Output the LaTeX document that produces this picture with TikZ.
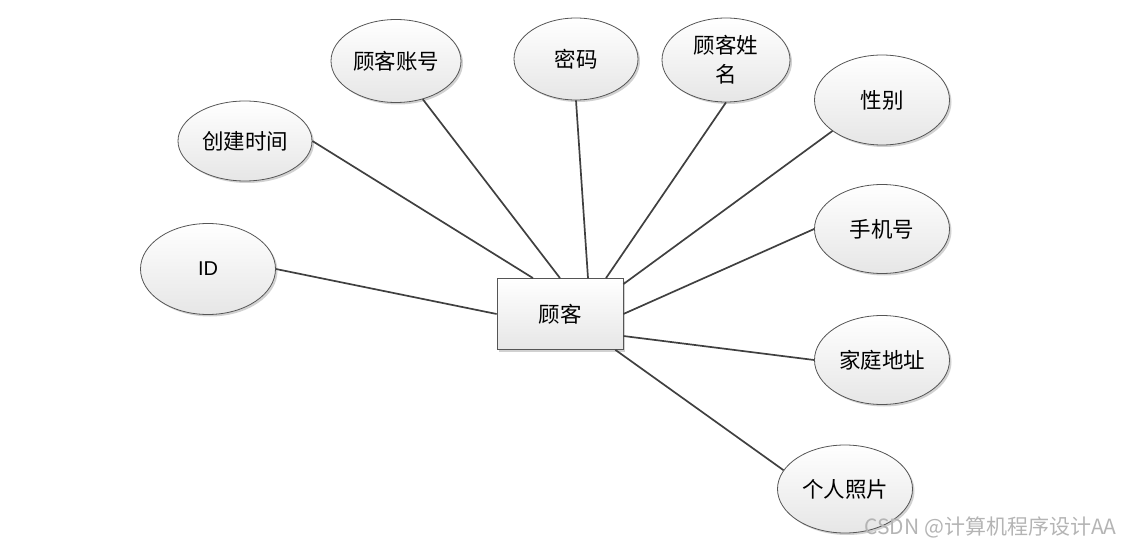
\documentclass[tikz,border=0pt]{standalone}
\usepackage{fontspec}
\newfontfamily\cjk{Noto Sans CJK SC}
\newfontfamily\lat{Liberation Sans}
\usetikzlibrary{shapes.geometric,shadows}
\definecolor{Ln}{HTML}{404040}
\definecolor{Bd}{HTML}{555555}
\definecolor{Sh}{HTML}{E6E6E6}
\definecolor{Wm}{HTML}{B4B4B4}
\tikzset{
  attr/.style={ellipse, draw=Bd, line width=0.8pt, top color=white, bottom color=Sh,
    inner sep=0pt, minimum width=134pt, minimum height=88pt, align=center,
    font=\cjk\fontsize{21.5}{29}\selectfont,
    drop shadow={shadow xshift=2pt, shadow yshift=-2pt, fill=black, opacity=0.18}},
  ent/.style={rectangle, draw=Bd, line width=0.8pt, top color=white, bottom color=Sh,
    minimum width=126pt, minimum height=71pt, font=\cjk\fontsize{21.5}{29}\selectfont,
    drop shadow={shadow xshift=2pt, shadow yshift=-2pt, fill=black, opacity=0.18}},
  link/.style={draw=Ln, line width=1.7pt},
}
\begin{document}
\begin{tikzpicture}[x=1pt,y=-1pt]
  \useasboundingbox (0,0) rectangle (1122,548);
  % entity
  \node[ent] (gk) at (560,314) {顾客};
  % attributes
  \node[attr, minimum width=134pt, minimum height=80pt] (cjsj) at (245,141) {创建时间};
  \node[attr, minimum width=130pt, minimum height=83pt] (gkzh) at (396,61) {顾客账号};
  \node[attr, minimum width=124pt, minimum height=82pt] (mm) at (576,59) {密码};
  \node[attr, minimum width=128pt, minimum height=84pt] (gkxm) at (726,60) {顾客姓\\名};
  \node[attr, minimum width=135pt, minimum height=90pt] (xb) at (882,100) {性别};
  \node[attr, minimum width=135pt, minimum height=89pt] (sjh) at (882,229) {手机号};
  \node[attr, minimum width=135pt, minimum height=89pt] (jtdz) at (882,360) {家庭地址};
  \node[attr, minimum width=135pt, minimum height=88pt] (grzp) at (845,489) {个人照片};
  \node[attr, minimum width=135pt, minimum height=91pt, font=\lat\fontsize{20}{24}\selectfont] (id) at (208,269) {ID};
  % links
  \draw[link] (cjsj.east) -- ([xshift=-27pt]gk.north);
  \draw[link] (gkzh.-55) -- (gk.north);
  \draw[link] (mm.south) -- ([xshift=28pt]gk.north);
  \draw[link] (gkxm.south) -- ([xshift=46pt]gk.north);
  \draw[link] (xb.212) -- ([yshift=-6pt]gk.north east);
  \draw[link] (sjh.west) -- (gk.east);
  \draw[link] (jtdz.west) -- ([yshift=-22pt]gk.east);
  \draw[link] (grzp.163) -- ([xshift=-8pt]gk.south east);
  \draw[link] (id.east) -- (gk.west);
  % watermark
  \node[text=Wm, anchor=east, font=\cjk\fontsize{21}{24}\selectfont] (wm) at (1120,527) {CSDN @计算机程序设计AA};
\end{tikzpicture}
\end{document}
